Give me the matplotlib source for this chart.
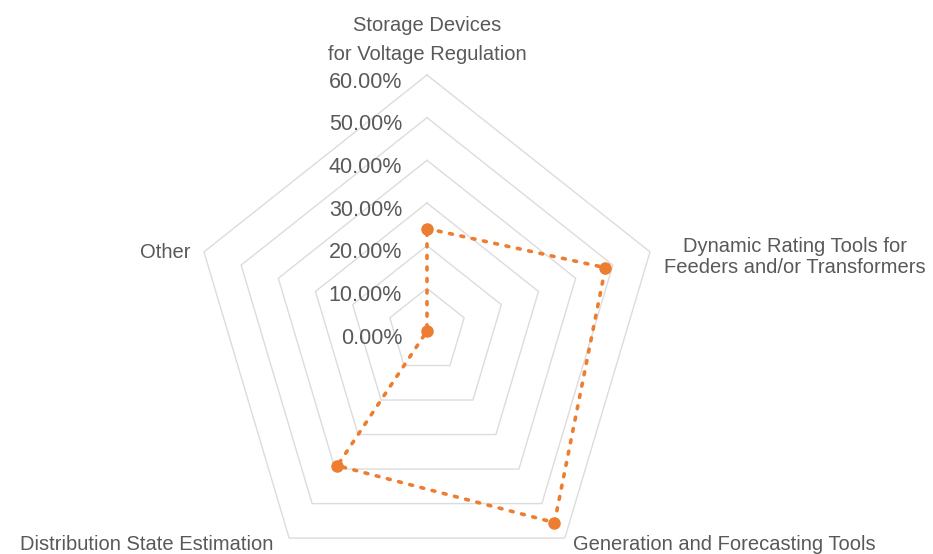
import numpy as np
import matplotlib
matplotlib.use("Agg")
import matplotlib.pyplot as plt

# ---- data ----
categories = [
    "Storage Devices\nfor Voltage Regulation",
    "Dynamic Rating Tools for\nFeeders and/or Transformers",
    "Generation and Forecasting Tools",
    "Distribution State Estimation",
    "Other",
]
values = [24.0, 48.0, 55.5, 39.0, 0.0]          # percent
ring_values = [0, 10, 20, 30, 40, 50, 60]
ring_labels = ["0.00%", "10.00%", "20.00%", "30.00%", "40.00%", "50.00%", "60.00%"]

W, H = 933, 554
fig = plt.figure(figsize=(W / 100, H / 100), dpi=100)
ax = fig.add_axes([0, 0, 1, 1])
ax.set_axis_off()

# centre at pixel (427, 331); 60% -> 234.5 px horizontally, 256 px vertically
cx, cy = 427, 331
sx = 234.5 / 60.0
sy = 256.0 / 60.0
ax.set_xlim(-cx / sx, (W - cx) / sx)
ax.set_ylim(-(H - cy) / sy, cy / sy)

n = len(categories)
theta = 2 * np.pi * np.arange(n) / n
ux, uy = np.sin(theta), np.cos(theta)

grid_color = "#dcdcdc"
text_color = "#595959"
orange = "#ED7D31"
font = "Liberation Sans"

# pentagon grid
for r in ring_values[1:]:
    xs = np.append(r * ux, r * ux[0])
    ys = np.append(r * uy, r * uy[0])
    ax.plot(xs, ys, color=grid_color, lw=1.0, zorder=1)

# radial tick labels
for r, lab in zip(ring_values, ring_labels):
    ax.annotate(lab, xy=(0, r), xytext=(-25, -7), textcoords="offset pixels",
                ha="right", va="center", fontsize=15.5, color=text_color,
                family=font)

# data series
v = np.array(values)
xs = np.append(v * ux, v[0] * ux[0])
ys = np.append(v * uy, v[0] * uy[0])
ax.plot(xs, ys, color=orange, lw=2.6, linestyle=(0, (0.8, 2.4)),
        dash_capstyle="round", zorder=3)
ax.plot(v * ux, v * uy, "o", color=orange, ms=8, zorder=4)

# category labels (pixel positions)
def ftext(px, py, s, ha="center", ls=1.2):
    fig.text(px / W, 1 - py / H, s, ha=ha, va="center", fontsize=14.5,
             color=text_color, family=font, linespacing=ls, multialignment="center")

ftext(427, 40, categories[0], ls=1.7)
ftext(795, 257, categories[1], ls=1.15)
ftext(724, 545, categories[2])
ftext(147, 545, categories[3])
ftext(165, 252, categories[4])

fig.savefig("out.png", dpi=100, facecolor="white")
